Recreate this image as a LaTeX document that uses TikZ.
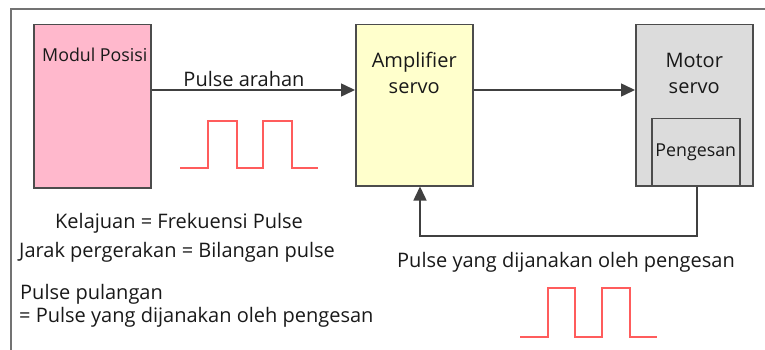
\documentclass[tikz,border=0pt]{standalone}
\usepackage{fontspec}
\setmainfont{Open Sans}
\usetikzlibrary{arrows.meta,positioning}

\definecolor{pinkblok}{HTML}{FFB8CC}
\definecolor{kuning}{HTML}{FFFFCC}
\definecolor{kelabu}{HTML}{DCDCDC}
\definecolor{merah}{HTML}{FF5C5C}

\tikzset{
  blok/.style={draw=black!70,line width=1.5pt,anchor=north west,inner sep=0pt},
  teks/.style={font=\fontsize{20}{26}\selectfont,text=black!90,inner sep=0pt},
  teksk/.style={teks,font=\fontsize{17.8}{22}\selectfont},
  pulsa/.style={draw=merah,line width=1.6pt},
  garis/.style={draw=black!75,line width=1.5pt}
}

\begin{document}
\begin{tikzpicture}[x=1pt,y=-1pt,>={Triangle[length=14pt,width=13pt]}]
  \useasboundingbox (0,0) rectangle (765,350);
  % bingkai luar
  \draw[black!55,line width=1.6pt] (11,352) -- (11,9) -- (767,9);
  % blok utama
  \node[blok,fill=pinkblok,minimum width=117pt,minimum height=163pt] (modul) at (33,24) {};
  \node[blok,fill=kuning,minimum width=117pt,minimum height=161pt] (amp) at (355,24) {};
  \node[blok,fill=kelabu,minimum width=117pt,minimum height=161pt] (motor) at (635,24) {};
  \node[blok,fill=kelabu,minimum width=88pt,minimum height=67pt] (peng) at (651,118) {};
  % teks dalam blok
  \node[teksk,anchor=west] (tmodul) at ([shift={(9,31)}]modul.north west) {Modul Posisi};
  \node[teks,align=center] (tamp) at ([yshift=-49pt]amp.north) {Amplifier\\servo};
  \node[teks,align=center] (tmotor) at ([yshift=-49pt]motor.north) {Motor\\servo};
  \node[teksk] (tpeng) at (peng.center) {Pengesan};
  % sambungan
  \draw[garis,->] (modul.east |- 0,90) -- (amp.west |- 0,90);
  \draw[garis,->] (amp.east |- 0,90) -- (motor.west |- 0,90);
  \coordinate (b1) at (697,236);
  \coordinate (b2) at (420,236);
  \draw[garis,->] (motor.south -| b1) -- (b1) -- (b2) -- (amp.south -| b2);
  \node[teks] (tarahan) at (244,79) {Pulse arahan};
  \node[teks] (tbalik) at (566,262) {Pulse yang dijanakan oleh pengesan};
  % isyarat pulse
  \draw[pulsa] (180,168) -- (208,168) -- (208,121) -- (237,121) -- (237,168)
    -- (263,168) -- (263,121) -- (292,121) -- (292,168) -- (318,168);
  \draw[pulsa] (520,337) -- (548,337) -- (548,288) -- (575,288) -- (575,337)
    -- (602,337) -- (602,288) -- (630,288) -- (630,337) -- (657,337);
  % keterangan
  \node[teks,anchor=west] (t1) at (55,223) {Kelajuan = Frekuensi Pulse};
  \node[teks,anchor=west] (t2) at (19,252) {Jarak pergerakan = Bilangan pulse};
  \node[teks,anchor=west] (t3) at (20,294) {Pulse pulangan};
  \node[teks,anchor=west] (t4) at (19,317) {= Pulse yang dijanakan oleh pengesan};
\end{tikzpicture}
\end{document}
